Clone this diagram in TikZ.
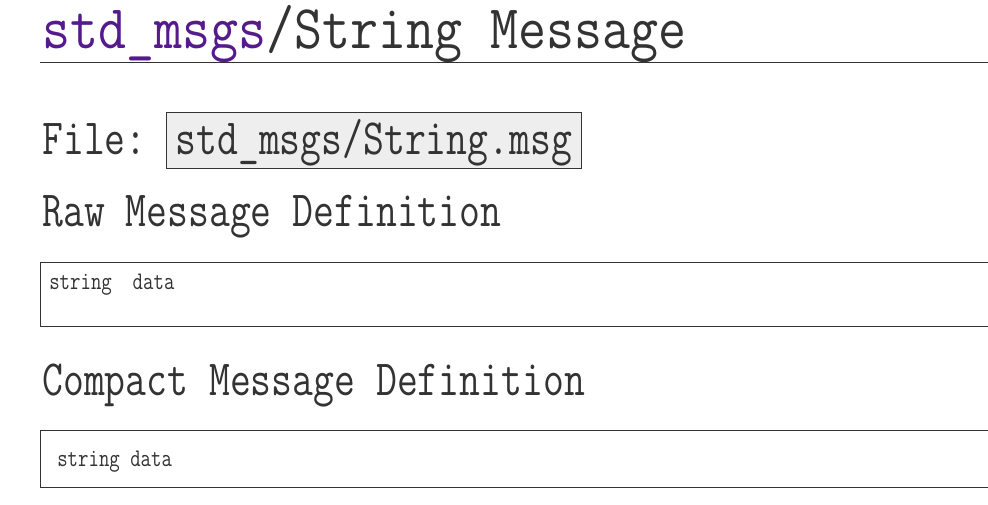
\documentclass[tikz,border=0pt]{standalone}
\usepackage{fontspec}
\setmonofont{Latin Modern Mono}[FakeStretch=0.8]
\newfontfamily\titlefont{Latin Modern Mono}[FakeStretch=0.875]
\definecolor{txtgray}{HTML}{333333}
\definecolor{linkpurple}{HTML}{551A8B}
\definecolor{boxfill}{HTML}{EEEEEE}
\tikzset{
	pagetitle/.style={anchor=base west, inner sep=0pt, text=txtgray, font=\titlefont\fontsize{46.6pt}{52pt}\selectfont},
	heading/.style={anchor=base west, inner sep=0pt, text=txtgray, font=\ttfamily\fontsize{38pt}{43pt}\selectfont},
	codetext/.style={anchor=base west, inner sep=0pt, text=txtgray, font=\ttfamily\fontsize{19pt}{21pt}\selectfont},
	filebox/.style={heading, draw=txtgray, fill=boxfill, line width=0.75pt, inner xsep=6.75pt, inner ysep=10.5pt, text height=21pt, text depth=0pt},
	frame/.style={draw=txtgray, line width=0.75pt}
}
\begin{document}
\begin{tikzpicture}[x=0.75pt, y=-0.75pt]
		\useasboundingbox (0, 0) rectangle (988, 505);
		
		\node[pagetitle] (title) at (42, 49)		{\textcolor{linkpurple}{std\_msgs}/String Message};
		\draw[frame] (40, 63) -- (988, 63);
		
		\node[heading] (file) at (42, 155)		{File:};
		\node[filebox, anchor=base west] (fname) at (166, 155)		{std\_msgs/String.msg};
		
		\node[heading] (raw) at (42, 227)		{Raw Message Definition};
		\draw[frame] (988, 263) -- (40, 263) -- (40, 327) -- (988, 327);
		\node[codetext] (rawdef) at (49, 290)		{string\ \ data};
		
		\node[heading] (compact) at (42, 396)		{Compact Message Definition};
		\draw[frame] (988, 431) -- (40, 431) -- (40, 487) -- (988, 487);
		\node[codetext] (compactdef) at (57, 466)		{string data};
	\end{tikzpicture}
\end{document}
